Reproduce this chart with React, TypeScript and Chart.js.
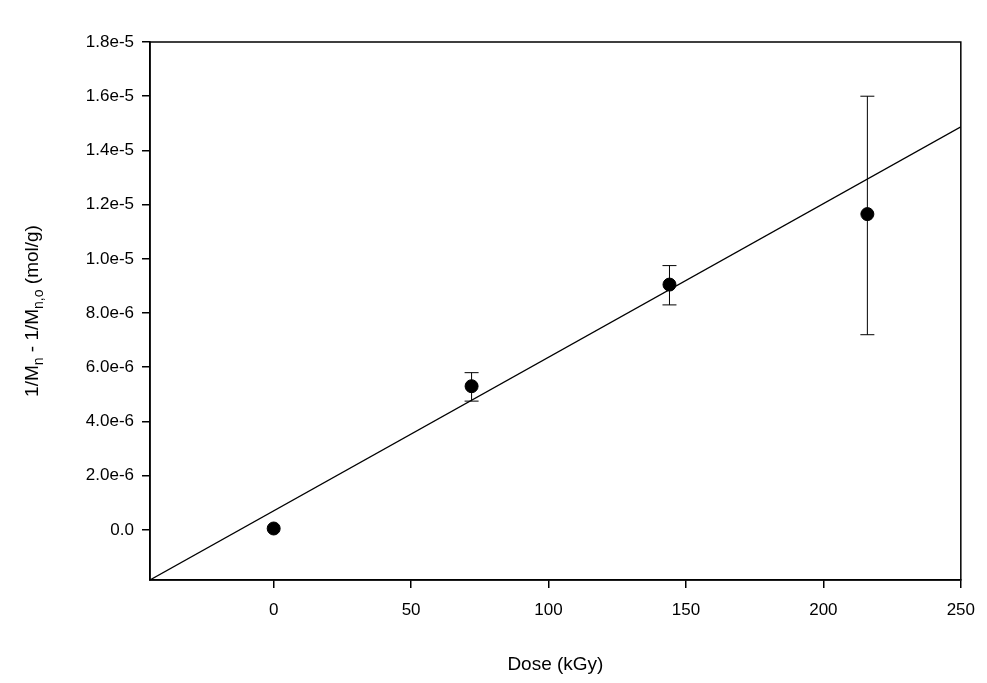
import { useEffect, useRef } from 'react'
import { Chart, registerables } from 'chart.js'

Chart.register(...registerables)

const doses = [0, 72, 144, 216]
const values = [0.05e-6, 5.3e-6, 9.05e-6, 11.65e-6]
const errLow = [0.05e-6, 4.75e-6, 8.3e-6, 7.2e-6]
const errHigh = [0.05e-6, 5.8e-6, 9.75e-6, 16.0e-6]
const fitX = [-45, 250]
const fitY = [-1.85e-6, 14.87e-6]
const xTicks = [0, 50, 100, 150, 200, 250]
const yTicks = [0, 2e-6, 4e-6, 6e-6, 8e-6, 1e-5, 1.2e-5, 1.4e-5, 1.6e-5, 1.8e-5]

const FONT = '"Liberation Sans", Arial, sans-serif'

const decor = {
  id: 'decor',
  afterDatasetsDraw(chart: any) {
    const { ctx, chartArea: a, scales } = chart
    const x = scales.x
    const y = scales.y
    ctx.save()
    ctx.strokeStyle = '#000'
    ctx.lineWidth = 1.5
    ctx.strokeRect(a.left, a.top, a.right - a.left, a.bottom - a.top)
    // error bars
    ctx.lineWidth = 1
    doses.forEach((d, i) => {
      if (errHigh[i] - errLow[i] < 1e-7) return
      const px = x.getPixelForValue(d)
      const lo = y.getPixelForValue(errLow[i])
      const hi = y.getPixelForValue(errHigh[i])
      ctx.beginPath()
      ctx.moveTo(px, lo)
      ctx.lineTo(px, hi)
      ctx.moveTo(px - 7, lo)
      ctx.lineTo(px + 7, lo)
      ctx.moveTo(px - 7, hi)
      ctx.lineTo(px + 7, hi)
      ctx.stroke()
    })
    // titles
    ctx.fillStyle = '#000'
    ctx.font = `19px ${FONT}`
    ctx.textAlign = 'center'
    ctx.textBaseline = 'middle'
    ctx.fillText('Dose (kGy)', (a.left + a.right) / 2, 665)
    ctx.translate(33, (a.top + a.bottom) / 2)
    ctx.rotate(-Math.PI / 2)
    const parts: [string, boolean][] = [
      ['1/M', false], ['n', true], [' - 1/M', false], ['n,o', true], [' (mol/g)', false],
    ]
    const big = `19px ${FONT}`
    const small = `14px ${FONT}`
    let total = 0
    parts.forEach(([t, s]) => {
      ctx.font = s ? small : big
      total += ctx.measureText(t).width
    })
    let cx = -total / 2
    ctx.textAlign = 'left'
    parts.forEach(([t, s]) => {
      ctx.font = s ? small : big
      ctx.fillText(t, cx, s ? 6 : 0)
      cx += ctx.measureText(t).width
    })
    ctx.restore()
  },
}

export default function App() {
  const ref = useRef<HTMLCanvasElement>(null)

  useEffect(() => {
    document.body.style.margin = '0'
    const chart = new Chart(ref.current as HTMLCanvasElement, {
      type: 'scatter',
      data: {
        datasets: [
          {
            type: 'line',
            data: fitX.map((v, i) => ({ x: v, y: fitY[i] })),
            borderColor: '#000',
            borderWidth: 1.2,
            pointRadius: 0,
          },
          {
            data: doses.map((v, i) => ({ x: v, y: values[i] })),
            backgroundColor: '#000',
            borderColor: '#000',
            pointRadius: 6.5,
          },
        ],
      },
      options: {
        animation: false,
        responsive: false,
        layout: { padding: { top: 42, right: 24, left: 0, bottom: 0 } },
        plugins: { legend: { display: false }, tooltip: { enabled: false } },
        scales: {
          x: {
            type: 'linear',
            min: -45,
            max: 250,
            afterBuildTicks: (s: any) => { s.ticks = xTicks.map((v) => ({ value: v })) },
            afterFit: (s: any) => { s.height = 683 - 42 - 538 },
            grid: { drawOnChartArea: false, drawTicks: true, tickLength: 8, color: '#000', lineWidth: 1.5 },
            border: { display: true, color: '#000', width: 1.5 },
            ticks: { color: '#000', font: { family: FONT, size: 17 }, padding: 12 },
          },
          y: {
            type: 'linear',
            min: -1.85e-6,
            max: 1.8e-5,
            afterBuildTicks: (s: any) => { s.ticks = yTicks.map((v) => ({ value: v })) },
            afterFit: (s: any) => { s.width = 150 },
            grid: { drawOnChartArea: false, drawTicks: true, tickLength: 8, color: '#000', lineWidth: 1.5 },
            border: { display: true, color: '#000', width: 1.5 },
            ticks: {
              color: '#000',
              font: { family: FONT, size: 17 },
              padding: 8,
              callback: (v: any) => (Number(v) === 0 ? '0.0' : Number(v).toExponential(1)),
            },
          },
        },
      },
      plugins: [decor],
    })
    return () => chart.destroy()
  }, [])

  return (
    <div style={{ width: 987, height: 683, background: '#fff' }}>
      <canvas ref={ref} width={987} height={683} style={{ width: 987, height: 683 }} />
    </div>
  )
}
